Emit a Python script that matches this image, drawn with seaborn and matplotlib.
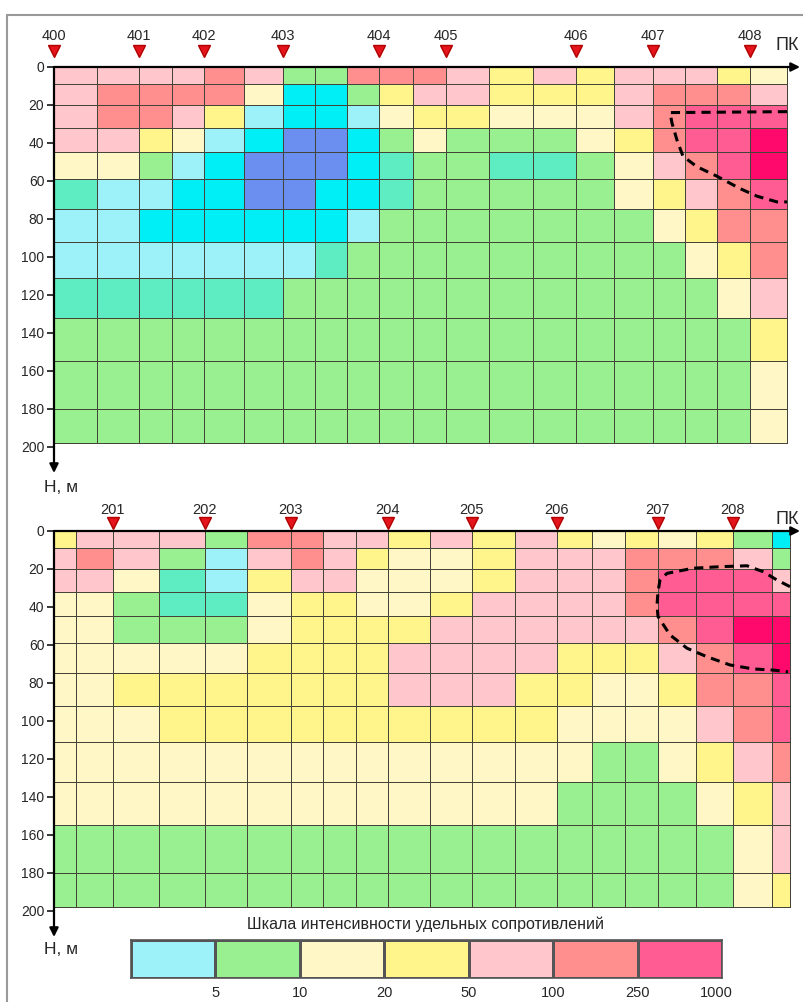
import numpy as np
import matplotlib
matplotlib.use("Agg")
import matplotlib.pyplot as plt
from matplotlib.colors import ListedColormap, BoundaryNorm
from matplotlib.patches import Rectangle
import seaborn as sns

sns.set_style("white")
plt.rcParams['font.family'] = ['Liberation Sans', 'DejaVu Sans']

# ---------------- данные ----------------
# классы сопротивлений (буквенные коды) и их цвета
class_codes = list("BCLAGWYPSMR")
class_colors = ['#6b8ff0', '#00eef5', '#9cf2f8', '#5eecc2', '#99f090', '#fff8c6',
                '#fff58a', '#ffc6cc', '#ff8f8e', '#ff5c94', '#ff0a6c']

depth_edges = [0, 9, 20, 32, 45, 59, 75, 92, 111, 132, 155, 180, 198]
depth_ticks = [0, 20, 40, 60, 80, 100, 120, 140, 160, 180, 200]

# профиль 400-408
top_x_edges = [0, 43, 85, 118, 150, 190, 229, 261, 293, 325, 359, 392,
               435, 479, 522, 560, 599, 631, 663, 696, 733]
top_pk_labels = ['400', '401', '402', '403', '404', '405', '406', '407', '408']
top_pk_pos = [0, 85, 150, 229, 325, 392, 522, 599, 696]
top_rows = [
    "PPPPSPGGSSSPYPYPPPYW",
    "PSSSSWCCGYPPYYYPSSSP",
    "PSSPYLCCLWYYWWWPSMMM",
    "PPYWLCBBCGWGGGWYSMMR",
    "WWGLCBBBCAGGAAGWPSMR",
    "ALLCCBBCCAGGGGGWYPSM",
    "LLCCCCCCLGGGGGGGWYSS",
    "LLLLLLLAGGGGGGGGGWYS",
    "AAAAAAGGGGGGGGGGGGWP",
    "GGGGGGGGGGGGGGGGGGGY",
    "GGGGGGGGGGGGGGGGGGGW",
    "GGGGGGGGGGGGGGGGGGGW",
]
top_anom_x = [733, 616, 618, 623, 629, 643, 663, 686, 703, 723, 733]
top_anom_y = [23.5, 24, 29.5, 38.5, 47, 52.5, 57.5, 64, 68, 71, 71]

# профиль 201-208
bot_x_edges = [0, 22, 59, 105, 151, 193, 237, 269, 302, 334, 376, 418,
               461, 503, 538, 571, 604, 642, 679, 718, 736]
bot_pk_labels = ['201', '202', '203', '204', '205', '206', '207', '208']
bot_pk_pos = [59, 151, 237, 334, 418, 503, 604, 679]
bot_rows = [
    "YPPPGSSPPYPYPYWYWYGC",
    "PSPGLPSPYWWYPPPSSSPG",
    "PPWALYPPWWWYPPPSMMMP",
    "WWGAAWYYWWYPPPPSMMMM",
    "WWGGGWYYYYPPPPPPSMRR",
    "WWWWWYYYYPPPPYYYPSMR",
    "WWYYYYYYYPPPYYWWYSSM",
    "WWWYYYYYYYYYYWWWWPSM",
    "WWWWWWWWWWWWWWGGWYPS",
    "WWWWWWWWWWWWWGGGGWYP",
    "GGGGGGGGGGGGGGGGGGWP",
    "GGGGGGGGGGGGGGGGGGWY",
]
bot_anom_x = [736, 723, 709, 693, 666, 639, 613, 606, 604, 603, 604, 616, 633, 653, 676, 699, 719, 734]
bot_anom_y = [29.3, 25.8, 21.4, 18.3, 18.8, 19.6, 22.3, 25.8, 32, 39, 45, 54.7, 61.7, 66.2, 70.5, 72.6, 73.2, 74.1]

legend_codes = list("LGWYPSM")
legend_ticks = ['5', '10', '20', '50', '100', '250', '1000']

# ---------------- оформление ----------------
W, H = 804, 1002
code_index = {c: i for i, c in enumerate(class_codes)}
cmap = ListedColormap(class_colors)
norm = BoundaryNorm(np.arange(len(class_codes) + 1) - 0.5, len(class_codes))


def px_rect(x0, y0, x1, y1):
    return [x0 / W, 1 - y1 / H, (x1 - x0) / W, (y1 - y0) / H]


def draw_panel(ax, x_edges, rows, pk_pos, pk_labels, anom_x, anom_y, tri_y, lab_y):
    z = np.array([[code_index[c] for c in r] for r in rows])
    ax.pcolormesh(x_edges, depth_edges, z, cmap=cmap, norm=norm,
                  edgecolors='#444438', linewidth=0.6)
    ax.set_xlim(0, 746)
    ax.set_ylim(213.7, 0)
    for s in ax.spines.values():
        s.set_visible(False)
    arrow = dict(arrowstyle='-|>', color='black', lw=1.6, mutation_scale=13,
                 shrinkA=0, shrinkB=0)
    ax.annotate('', xy=(1.0, 1.0), xytext=(0, 1.0), xycoords='axes fraction', arrowprops=arrow)
    ax.annotate('', xy=(0, 0.0), xytext=(0, 1.0), xycoords='axes fraction', arrowprops=arrow)
    ax.set_xticks([])
    ax.set_yticks(depth_ticks)
    ax.tick_params(axis='y', direction='out', length=5, width=1.3, labelsize=10, pad=2, left=True)
    ax.plot(pk_pos, [tri_y] * len(pk_pos), 'v', ms=9, color='#e3141b',
            markeredgecolor='#b00000', clip_on=False, zorder=5)
    for p, lab in zip(pk_pos, pk_labels):
        ax.text(p, lab_y, lab, ha='center', va='center', fontsize=10.5, clip_on=False)
    ax.text(722, lab_y + 5, 'ПК', ha='left', va='center', fontsize=13, clip_on=False)
    ax.plot(anom_x, anom_y, color='black', ls=(0, (3, 2)), lw=2.2, zorder=4)


fig = plt.figure(figsize=(W / 100, H / 100), dpi=100)

ax_top = fig.add_axes(px_rect(54, 67, 800, 473))
draw_panel(ax_top, top_x_edges, top_rows, top_pk_pos, top_pk_labels,
           top_anom_x, top_anom_y, tri_y=-8.2, lab_y=-16.3)

ax_bot = fig.add_axes(px_rect(54, 531, 800, 937))
draw_panel(ax_bot, bot_x_edges, bot_rows, bot_pk_pos, bot_pk_labels,
           bot_anom_x, bot_anom_y, tri_y=-4.2, lab_y=-11)

fig.text(61 / W, 1 - 487 / H, 'Н, м', ha='center', va='center', fontsize=12.5)
fig.text(61 / W, 1 - 950 / H, 'Н, м', ha='center', va='center', fontsize=12.5)

# шкала
fig.text(426 / W, 1 - 924 / H, 'Шкала интенсивности удельных сопротивлений',
         ha='center', va='center', fontsize=11.5)
lax = fig.add_axes(px_rect(131, 940, 722, 978))
leg_cmap = ListedColormap([class_colors[code_index[c]] for c in legend_codes])
sns.heatmap(np.arange(len(legend_codes))[None, :], cmap=leg_cmap, cbar=False,
            linewidths=1, linecolor='#555555', xticklabels=False, yticklabels=False, ax=lax)
for s in lax.spines.values():
    s.set_visible(True)
    s.set_linewidth(1.2)
    s.set_color('#555555')
for i, lab in enumerate(legend_ticks):
    xpos = i + 1 if i < len(legend_ticks) - 1 else i + 0.93
    lax.text(xpos, 1.4, lab, ha='center', va='center', fontsize=10.5, clip_on=False)

# рамка
fig.patches.append(Rectangle((7 / W, -0.01), 1, 1 - 15 / H + 0.01, transform=fig.transFigure,
                             fill=False, edgecolor='#9a9a9a', lw=1.5))

fig.savefig('out.png', dpi=100)
